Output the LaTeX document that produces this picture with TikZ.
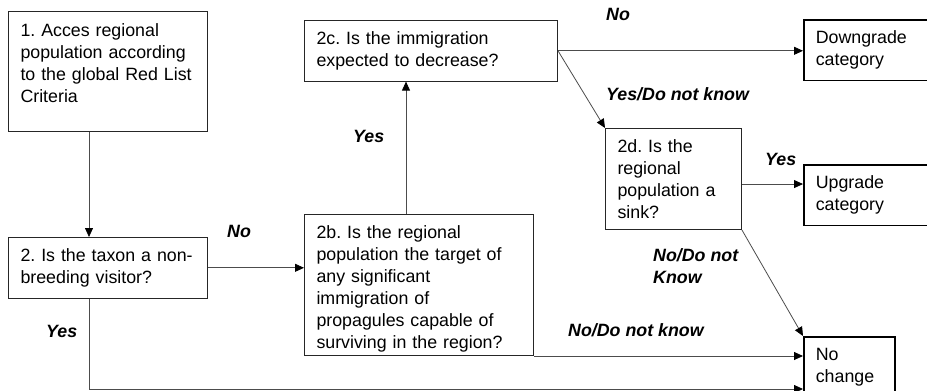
\documentclass[tikz,border=0pt]{standalone}
\usepackage{fontspec}
\setmainfont{Liberation Sans}
\frenchspacing
\usetikzlibrary{arrows.meta}

\begin{document}
\begin{tikzpicture}[x=1pt, y=-1pt,
    box/.style={draw=black!85, line width=1pt, anchor=north west, align=left,
        inner xsep=12pt, inner ysep=11pt, font=\fontsize{17.8}{22}\selectfont},
    endbox/.style={box, draw=black, line width=1.6pt},
    lbl/.style={anchor=base west, inner sep=0pt, font=\fontsize{17.8}{22}\selectfont\bfseries\itshape},
    arr/.style={draw=black!70, line width=.8pt, -{Triangle[length=9pt,width=8pt,color=black]}}]

    \clip (0,0) rectangle (927,391);

    % question boxes
    \node[box, text width=175pt, text height=13pt, text depth=83pt, inner ysep=12pt] (assess) at (8,11)
        {1. Acces regional\\population according\\to the global Red List\\Criteria};
    \node[box, text width=175pt, minimum height=55pt] (visitor) at (8,237)
        {2. Is the taxon a non-\\breeding visitor?};
    \node[box, text width=205pt, text height=13pt, text depth=106pt] (target) at (304,214)
        {2b. Is the regional\\population the target of\\any significant\\immigration of\\propagules capable of\\surviving in the region?};
    \node[box, text width=229pt, minimum height=55pt] (decrease) at (304,20)
        {2c. Is the immigration\\expected to decrease?};
    \node[box, text width=112pt, minimum height=99pt] (sink) at (605,128)
        {2d. Is the\\regional\\population a\\sink?};

    % outcomes
    \node[endbox, text width=120pt, minimum height=58pt] (downgrade) at (803,19) {Downgrade\\category};
    \node[endbox, text width=120pt, minimum height=58pt] (upgrade) at (803,164) {Upgrade\\category};
    \node[endbox, text width=67pt, text height=13pt, text depth=40pt] (nochange) at (803,336) {No\\change};

    \coordinate (yesbend) at (89,389);

    \draw[arr] ([xshift=81pt]assess.south west) -- ([xshift=81pt]visitor.north west);
    \draw[arr] (visitor.east) -- (visitor.east -| target.west);
    \draw[arr] ([xshift=81pt]visitor.south west) -- (yesbend) -- (yesbend -| nochange.west);
    \draw[arr] ([xshift=102pt]target.north west) -- ([xshift=102pt]target.north west |- decrease.south);
    \draw[arr] (decrease.east) -- (decrease.east -| downgrade.west);
    \draw[arr] (decrease.east) -- (sink.north west);
    \draw[arr] ([yshift=-5pt]sink.east) -- ([yshift=-5pt]sink.east -| upgrade.west);
    \draw[arr] (sink.south east) -- (nochange.north west);
    \draw[arr] (target.south east) -- (target.south east -| nochange.west);

    % answers
    \node[lbl] (noA) at (227,237) {No};
    \node[lbl] (yesA) at (46,337) {Yes};
    \node[lbl] (yesB) at (353,142) {Yes};
    \node[lbl] (noB) at (606,20) {No};
    \node[lbl] (yesdk) at (606,100) {Yes/Do not know};
    \node[lbl] (yesC) at (765,165) {Yes};
    \node[lbl, align=left] (nodkA) at (653,283) {No/Do not\\Know};
    \node[lbl] (nodkB) at (568,336) {No/Do not know};
\end{tikzpicture}
\end{document}
